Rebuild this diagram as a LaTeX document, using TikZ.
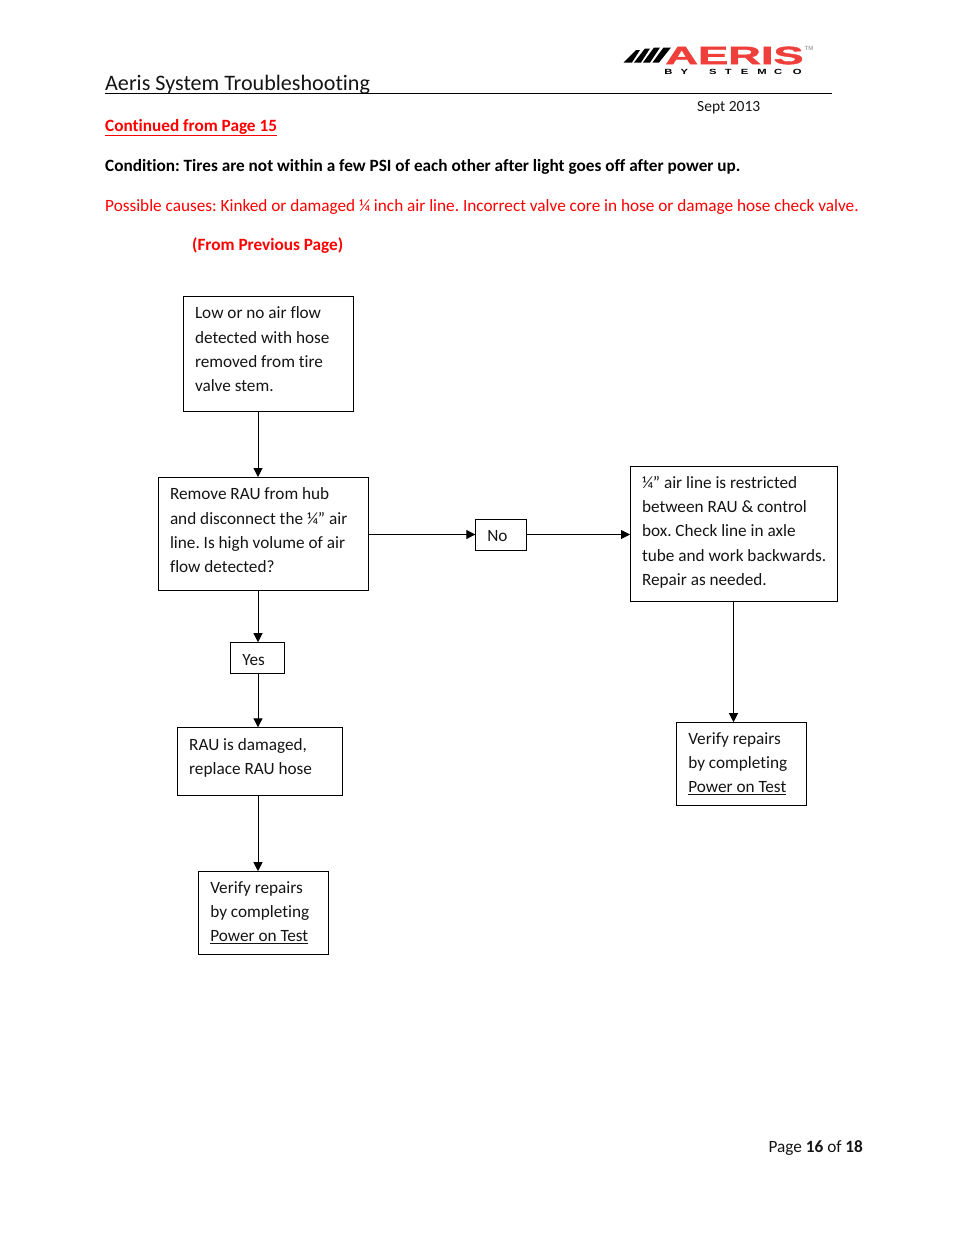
\documentclass[tikz,border=0pt]{standalone}
\usepackage{fontspec}
\setmainfont[Ligatures=NoCommon]{Carlito}
\newfontfamily\logofont[FakeBold=1.5]{Liberation Sans}
\newfontfamily\logosub{Liberation Sans}
\definecolor{logored}{HTML}{EE3F3A}
\frenchspacing
\newcommand{\boxtext}[4]{\parbox[c][#2pt][t]{#1pt}{\vspace*{#3pt}\raggedright #4}}
\usetikzlibrary{arrows.meta}
\tikzset{
  x=1pt,y=-1pt,
  every node/.style={font=\fontsize{17.22}{24.3}\selectfont,text=black!92},
  plain/.style={inner sep=0pt,anchor=base west},
  flow/.style={draw=black,line width=1pt,inner xsep=12pt,inner ysep=0pt,outer sep=0pt},
  conn/.style={draw=black,line width=1pt,-{Triangle[length=9pt,width=9pt]}},
  stripe/.style={fill=black,draw=none},
}
\begin{document}
\begin{tikzpicture}
\useasboundingbox (0,0) rectangle (954,1235);
% header
\node[plain,font=\fontsize{22.1}{24}\selectfont] (title) at (105,90) {Aeris System Troubleshooting};
\coordinate (ruleL) at (105,93.5);
\coordinate (ruleR) at (832,93.5);
\draw[line width=0.8pt] (ruleL) -- (ruleR);
\node[plain,font=\fontsize{15.5}{18}\selectfont] (date) at (697,111) {Sept 2013};
% logo
\fill[stripe] (623.5,62.5) -- (632,62.5) -- (640,50) -- (636,50) -- cycle;
\fill[stripe] (634,62.5) -- (641,62.5) -- (650,48.5) -- (645,48.5) -- cycle;
\fill[stripe] (643,62.5) -- (650,62.5) -- (660,47.5) -- (654,47.5) -- cycle;
\fill[stripe] (652.5,62.5) -- (659,62.5) -- (671,47.5) -- (663.5,47.5) -- cycle;
\node[inner sep=0pt,anchor=center,text=logored,font=\logofont\bfseries\fontsize{25}{25}\selectfont,xscale=1.81] (logo) at (734.5,55.5) {AERIS};
\node[inner sep=0pt,anchor=base west,text=black,font=\logosub\bfseries\fontsize{7.5}{8}\selectfont,xscale=1.5] (by) at (664,74) {B\hspace{5.5pt}Y\hspace{14pt}S\hspace{5.5pt}T\hspace{6pt}E\hspace{6pt}M\hspace{5pt}C\hspace{7pt}O};
\node[inner sep=0pt,anchor=center,text=gray,font=\logosub\fontsize{6}{6}\selectfont] (tm) at (809,48) {TM};
% heading texts
\node[plain,text=red,font=\fontsize{17.22}{24}\selectfont\bfseries] (cont) at (105,131) {\underline{Continued from Page 15}};
\node[plain,font=\fontsize{17.22}{24}\selectfont\bfseries,text=black] (cond) at (105,171) {Condition: Tires are not within a few PSI of each other after light goes off after power up.};
\node[plain,text=red] (cause) at (105,211) {Possible causes: Kinked or damaged ¼ inch air line. Incorrect valve core in hose or damage hose check valve.};
\node[plain,text=red,font=\fontsize{17.22}{24}\selectfont\bfseries] (prev) at (192,250) {(From Previous Page)};
% flow boxes
\node[flow] (A) at (268,353.5) {\boxtext{146}{115}{11}{Low or no air flow\\detected with hose\\removed from tire\\valve stem.}};
\node[flow] (B) at (263,533.5) {\boxtext{186}{113}{11}{Remove RAU from hub\\and disconnect the ¼” air\\line. Is high volume of air\\flow detected?}};
\node[flow] (C) at (733.5,533.5) {\boxtext{183}{135}{10}{¼” air line is restricted\\between RAU \& control\\box. Check line in axle\\\mbox{tube and work backwards.}\\Repair as needed.}};
\node[flow] (no) at (500.8,534.5) {\boxtext{27}{31}{11}{No}};
\node[flow] (yes) at (257.6,657.7) {\boxtext{30.5}{31}{12}{Yes}};
\node[flow] (D) at (259.7,761.3) {\boxtext{141}{68}{11}{RAU is damaged,\\replace RAU hose}};
\node[flow] (E) at (263.3,912.7) {\boxtext{106}{83}{10}{Verify repairs\\by completing\\\underline{Power on Test}}};
\node[flow] (F) at (741.3,763.7) {\boxtext{106}{83}{10}{Verify repairs\\by completing\\\underline{Power on Test}}};
\coordinate (col) at (258,0);
% connectors
\draw[conn] (A.south -| col) -- (B.north -| col);
\draw[conn] (B.south -| col) -- (yes.north -| col);
\draw[conn] (yes.south -| col) -- (D.north -| col);
\draw[conn] (D.south -| col) -- (E.north -| col);
\draw[conn] (B.east |- no.west) -- (no.west);
\draw[conn] (no.east) -- (C.west |- no.east);
\draw[conn] (C.south) -- (F.north -| C.south);
% footer
\node[plain] (page) at (768.5,1152) {Page \textbf{16} of \textbf{18}};
\end{tikzpicture}
\end{document}
